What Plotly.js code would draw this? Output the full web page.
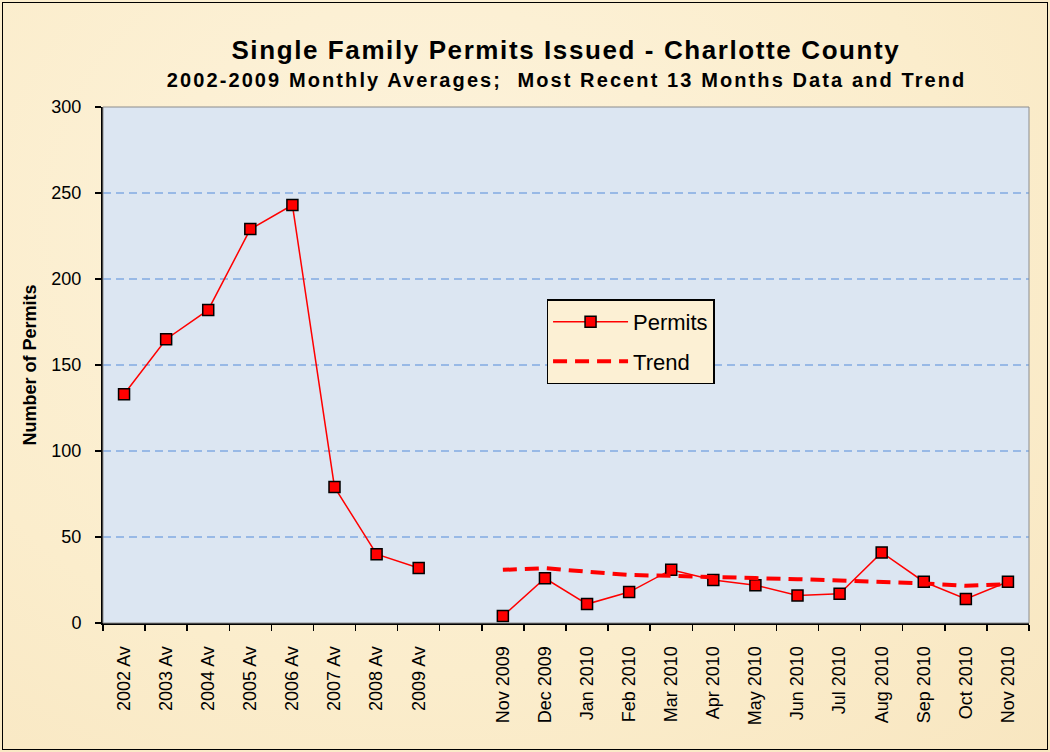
<!DOCTYPE html>
<html>
<head>
<meta charset="utf-8">
<script src="https://cdn.plot.ly/plotly-3.0.1.min.js"></script>
<style>
  html, body { margin: 0; padding: 0; }
  body { width: 1050px; height: 752px; overflow: hidden;
    background: radial-gradient(ellipse at 40% 30%, #fdf3dc 0%, #fbedcc 60%, #f8e6c0 100%); }
  #frame { position: absolute; left: 2px; top: 2px; width: 1044px; height: 746px; border: 1px solid #000; pointer-events: none; }
  #chart { position: absolute; left: 0; top: 0; width: 1050px; height: 752px; }
  .ttl text { letter-spacing: 1.6px; }
  .sub text { letter-spacing: 2.1px; }
</style>
</head>
<body>
<div id="chart"></div>
<div id="frame"></div>
<script>
const categories = ["2002 Av","2003 Av","2004 Av","2005 Av","2006 Av","2007 Av","2008 Av","2009 Av"," ",
  "Nov 2009","Dec 2009","Jan 2010","Feb 2010","Mar 2010","Apr 2010","May 2010","Jun 2010","Jul 2010",
  "Aug 2010","Sep 2010","Oct 2010","Nov 2010"];
const permits = [133,165,182,229,243,79,40,32,null,
  4,26,11,18,31,25,22,16,17,41,24,14,24];
const trend = [null,null,null,null,null,null,null,null,null,
  30.9,31.9,29.8,27.9,27.4,26.5,26.1,25.5,24.6,24.2,23.0,21.6,22.6];

const traces = [
  { x: categories, y: permits, name: "Permits", type: "scatter", mode: "lines+markers",
    connectgaps: false, legendgroup: "a",
    line: { color: "#ff0000", width: 1.5 },
    marker: { symbol: "square", size: 11, color: "#ff0000", line: { color: "#000000", width: 1.5 } } },
  { x: categories, y: trend, name: "Trend", type: "scatter", mode: "lines",
    connectgaps: false, legendgroup: "b",
    line: { color: "#ff0000", width: 4, dash: "14px,8px" } }
];

const layout = {
  width: 1050, height: 752,
  paper_bgcolor: "rgba(0,0,0,0)",
  plot_bgcolor: "#dce6f2",
  margin: { l: 103, r: 21, t: 107, b: 129 },
  showlegend: true,
  font: { family: "Liberation Sans, Arial, sans-serif", color: "#000" },
  xaxis: {
    type: "category", categoryorder: "array", categoryarray: categories,
    tickangle: -90, tickson: "boundaries", ticks: "outside", ticklen: 6, tickcolor: "#000", tickwidth: 1.5,
    ticklabelstandoff: 14,
    showline: true, linecolor: "#000", linewidth: 2, mirror: false,
    showgrid: false, zeroline: false,
    tickfont: { size: 18, color: "#000" },
    range: [-0.5, 21.5], fixedrange: true
  },
  yaxis: {
    range: [0, 300], dtick: 50, tick0: 0,
    ticks: "outside", ticklen: 6, tickcolor: "#000", tickwidth: 1.5,
    ticklabelstandoff: 10,
    showline: true, linecolor: "#000", linewidth: 2,
    showgrid: true, gridcolor: "#98b9e6", griddash: "8px,5px", gridwidth: 2,
    zeroline: false,
    tickfont: { size: 18, color: "#000" },
    title: { text: "<b>Number of Permits</b>", font: { size: 18, color: "#000" }, standoff: 10 }
  },
  legend: {
    x: 0.479, y: 0.627, xanchor: "left", yanchor: "top",
    bgcolor: "#fcf0d4", bordercolor: "#000", borderwidth: 1.5,
    font: { size: 22, color: "#000" },
    tracegroupgap: 8, itemwidth: 75
  },
  shapes: [
    { type: "rect", xref: "paper", yref: "paper", x0: 0, x1: 1, y0: 0, y1: 1,
      line: { color: "#8c8c8c", width: 1 }, fillcolor: "rgba(0,0,0,0)", layer: "above" }
  ],
  annotations: [
    { text: "<b>Single Family Permits Issued - Charlotte County</b>", xref: "paper", yref: "paper",
      x: 0.5, y: 1, yshift: 57, xanchor: "center", yanchor: "middle", showarrow: false,
      font: { size: 26, color: "#000" } },
    { text: "<b>2002-2009 Monthly Averages;  Most Recent 13 Months Data and Trend</b>", xref: "paper", yref: "paper",
      x: 0.5, y: 1, yshift: 27, xanchor: "center", yanchor: "middle", showarrow: false,
      font: { size: 20, color: "#000" } }
  ]
};

Plotly.newPlot("chart", traces, layout, { displayModeBar: false, staticPlot: true }).then(function () {
  const anns = document.querySelectorAll(".annotation");
  if (anns[0]) anns[0].classList.add("ttl");
  if (anns[1]) anns[1].classList.add("sub");
});
</script>
</body>
</html>
